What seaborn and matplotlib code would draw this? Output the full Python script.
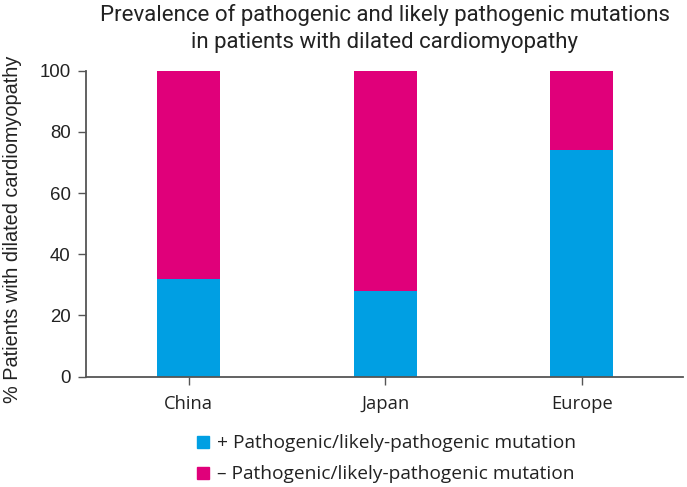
import matplotlib
matplotlib.use('Agg')
import matplotlib.pyplot as plt
import seaborn as sns
import pandas as pd
from matplotlib.lines import Line2D

# Data
regions = ['China', 'Japan', 'Europe']
positive = [32, 28, 74]
negative = [68, 72, 26]
labels = ['+ Pathogenic/likely-pathogenic mutation',
          '\u2013 Pathogenic/likely-pathogenic mutation']

blue = '#009FE3'
magenta = '#E0007A'
axis_col = '#555555'
text_col = '#222222'

df = pd.DataFrame({'Region': regions, 'Positive': positive, 'Negative': negative})
df['Total'] = df['Positive'] + df['Negative']

sns.set_style('white')
plt.rcParams['font.family'] = ['Open Sans', 'DejaVu Sans']

fig = plt.figure(figsize=(6.87, 4.87), dpi=100)
ax = fig.add_axes([0.1252, 0.2265, 0.869, 0.6285])

# stacked bars: full height in magenta, positive share in blue on top
sns.barplot(data=df, x='Region', y='Total', color=magenta, width=0.32,
            saturation=1, linewidth=0, ax=ax)
sns.barplot(data=df, x='Region', y='Positive', color=blue, width=0.32,
            saturation=1, linewidth=0, ax=ax)

ax.set_xlim(-0.522, 2.515)
ax.set_ylim(0, 100)
ax.set_yticks([0, 20, 40, 60, 80, 100])
ax.set_xlabel('')
ax.set_ylabel('% Patients with dilated cardiomyopathy', fontsize=14.3,
              color=text_col, family=['Liberation Sans', 'DejaVu Sans'])
ax.yaxis.set_label_coords(-0.107, 0.48)
ax.tick_params(axis='both', direction='out', length=6, width=1, color=axis_col,
               labelcolor=text_col, bottom=True, left=True)
ax.tick_params(axis='x', pad=7, labelsize=13.2)
ax.tick_params(axis='y', pad=5, labelsize=13.4)
for t in ax.get_yticklabels():
    t.set_family(['Liberation Sans', 'DejaVu Sans'])
for s in ['top', 'right']:
    ax.spines[s].set_visible(False)
for s in ['left', 'bottom']:
    ax.spines[s].set_color(axis_col)
    ax.spines[s].set_linewidth(1.3)

fig.text(0.56, 0.942, 'Prevalence of pathogenic and likely pathogenic mutations\n'
         'in patients with dilated cardiomyopathy', ha='center', va='center',
         fontsize=16, color=text_col, linespacing=1.4, family=['Roboto', 'DejaVu Sans'])

handles = [Line2D([], [], marker='s', linestyle='', markersize=8, color=blue),
           Line2D([], [], marker='s', linestyle='', markersize=8, color=magenta)]
fig.legend(handles, labels, loc='center left', bbox_to_anchor=(0.284, 0.058),
           frameon=False, fontsize=13.8, handletextpad=0.35, labelspacing=0.68,
           handlelength=0.8, labelcolor=text_col, borderaxespad=0, borderpad=0)

fig.savefig('out.png', dpi=100)
